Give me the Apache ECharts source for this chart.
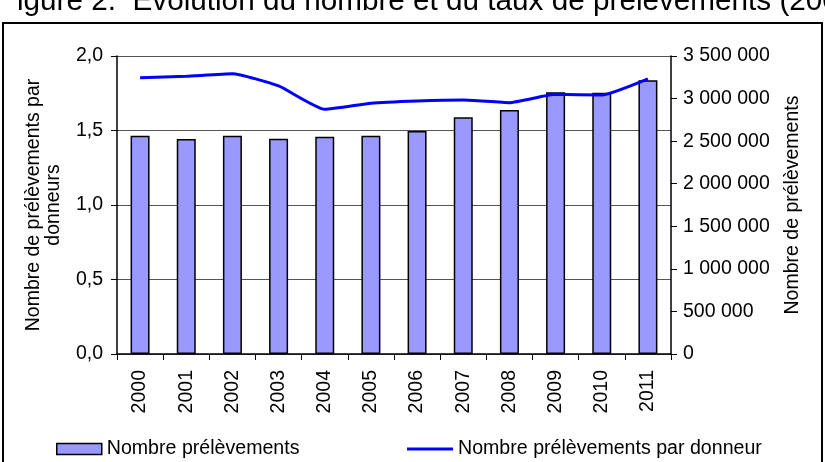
<!DOCTYPE html>
<html>
<head>
<meta charset="utf-8">
<script src="https://cdn.jsdelivr.net/npm/echarts@6/dist/echarts.min.js"></script>
<style>
  html, body { margin: 0; padding: 0; background: #fff; }
  #main { width: 825px; height: 462px; }
</style>
</head>
<body>
<div id="main"></div>
<script>
// years on the x axis
var years = ["2000", "2001", "2002", "2003", "2004", "2005", "2006", "2007", "2008", "2009", "2010", "2011"];
// bars, right axis
var prelevements = [2564000, 2525000, 2564000, 2529000, 2552000, 2564000, 2619000, 2780000, 2866000, 3073000, 3069000, 3214000];
// line, left axis
var parDonneur = [1.854, 1.864, 1.881, 1.799, 1.642, 1.683, 1.698, 1.705, 1.687, 1.743, 1.738, 1.846];

var font = "Liberation Sans, Arial, sans-serif";

function frNumber(v) {
  return String(v).replace(/\B(?=(\d{3})+(?!\d))/g, " ");
}

var myChart = echarts.init(document.getElementById("main"));
var option = {
  animation: false,
  textStyle: { fontFamily: font },
  graphic: [
    {
      // the title is cut off on both sides in the source picture
      type: "text",
      left: 17,
      top: -13,
      style: {
        text: "igure 2.  Évolution du nombre et du taux de prélèvements (2000-2011)",
        font: "29.7px " + font,
        fill: "#000"
      }
    },
    {
      type: "rect",
      shape: { x: 3, y: 23, width: 819, height: 460 },
      style: { fill: "none", stroke: "#000", lineWidth: 2 }
    }
  ],
  grid: { left: 117, right: 154, top: 56, bottom: 108 },
  legend: [
    {
      data: ["Nombre prélèvements"],
      left: 51,
      top: 434,
      icon: "rect",
      itemWidth: 45,
      itemHeight: 11,
      selectedMode: false,
      itemStyle: { color: "#9999ff", borderColor: "#000", borderWidth: 1.5 },
      textStyle: { fontSize: 19.6, color: "#000", fontFamily: font }
    },
    {
      data: ["Nombre prélèvements par donneur"],
      left: 402,
      top: 434,
      icon: "rect",
      itemWidth: 46,
      itemHeight: 3,
      selectedMode: false,
      itemStyle: { color: "#0000ff", borderWidth: 0 },
      textStyle: { fontSize: 19.6, color: "#000", fontFamily: font }
    }
  ],
  xAxis: {
    type: "category",
    data: years,
    boundaryGap: true,
    axisLine: { lineStyle: { color: "#000", width: 1.5 } },
    axisTick: { show: true, interval: 0, length: 6, lineStyle: { color: "#000" } },
    axisLabel: { rotate: 90, fontSize: 19.5, color: "#000", margin: 16, interval: 0 }
  },
  yAxis: [
    {
      type: "value",
      min: 0,
      max: 2,
      interval: 0.5,
      name: "Nombre de prélèvements par\ndonneurs",
      nameLocation: "middle",
      nameRotate: 90,
      nameGap: 53,
      nameTextStyle: { fontSize: 19.5, color: "#000", lineHeight: 20 },
      axisLine: { show: true, lineStyle: { color: "#000", width: 1.5 } },
      axisTick: { show: true, length: 6, lineStyle: { color: "#000" } },
      axisLabel: {
        fontSize: 19.5,
        color: "#000",
        margin: 14,
        formatter: function (v) { return v.toFixed(1).replace(".", ","); }
      },
      splitLine: { show: true, lineStyle: { color: "#555", width: 1.2 } }
    },
    {
      type: "value",
      min: 0,
      max: 3500000,
      interval: 500000,
      name: "Nombre de prélèvements",
      nameLocation: "middle",
      nameRotate: 90,
      nameGap: 112,
      nameTextStyle: { fontSize: 19.5, color: "#000" },
      axisLine: { show: true, lineStyle: { color: "#000", width: 1.5 } },
      axisTick: { show: true, length: 6, lineStyle: { color: "#000" } },
      axisLabel: {
        fontSize: 19.5,
        color: "#000",
        margin: 12,
        formatter: function (v) { return frNumber(v); }
      },
      splitLine: { show: false }
    }
  ],
  series: [
    {
      name: "Nombre prélèvements",
      type: "bar",
      yAxisIndex: 1,
      barWidth: 19,
      data: prelevements,
      itemStyle: { color: "#9999ff", borderColor: "#000", borderWidth: 1.5 }
    },
    {
      name: "Nombre prélèvements par donneur",
      type: "line",
      yAxisIndex: 0,
      data: parDonneur,
      smooth: 0.15,
      showSymbol: false,
      lineStyle: { color: "#0000ff", width: 3 },
      itemStyle: { color: "#0000ff" }
    }
  ]
};
myChart.setOption(option);
</script>
</body>
</html>
